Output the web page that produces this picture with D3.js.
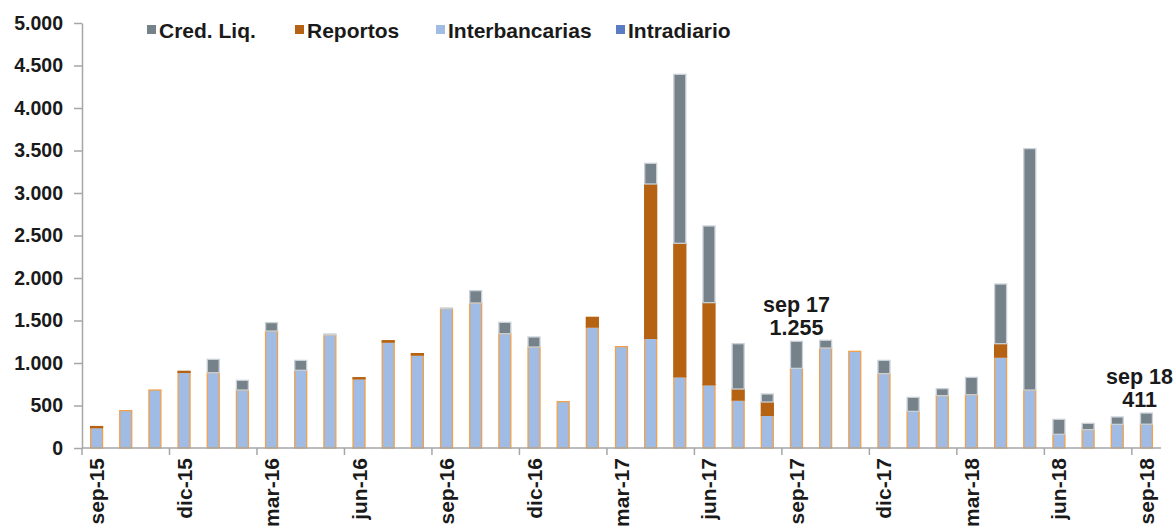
<!DOCTYPE html>
<html lang="es">
<head>
<meta charset="utf-8">
<title>Liquidez</title>
<script src="https://d3js.org/d3.v7.min.js"></script>
<style>
  body { margin: 0; background: #fff; }
  text { font-family: "Liberation Sans", Arial, sans-serif; font-weight: bold; fill: #1a1a1a; }
</style>
</head>
<body>
<script>
// months, sep-15 .. sep-18
var months = ["sep-15","oct-15","nov-15","dic-15","ene-16","feb-16","mar-16","abr-16","may-16","jun-16","jul-16","ago-16",
  "sep-16","oct-16","nov-16","dic-16","ene-17","feb-17","mar-17","abr-17","may-17","jun-17","jul-17","ago-17",
  "sep-17","oct-17","nov-17","dic-17","ene-18","feb-18","mar-18","abr-18","may-18","jun-18","jul-18","ago-18","sep-18"];
var shownLabels = ["sep-15","dic-15","mar-16","jun-16","sep-16","dic-16","mar-17","jun-17","sep-17","dic-17","mar-18","jun-18","sep-18"];

var interbancarias = [240,439,682,890,886,682,1376,914,1330,815,1247,1094,
  1640,1706,1345,1188,545,1424,1192,1290,839,745,565,384,
  937,1176,1137,875,431,616,627,1071,682,161,216,278,280];
var reportos = [12,0,0,12,0,0,0,0,0,12,15,16,
  0,0,0,0,0,113,0,1816,1569,965,129,157,
  0,0,0,0,0,0,0,156,0,0,0,0,0];
var credLiq = [0,0,0,0,157,114,99,117,11,0,0,0,
  7,145,133,118,0,0,0,243,1988,902,533,94,
  318,91,0,156,165,82,204,702,2840,176,74,87,131];
var intradiario = months.map(function() { return 0; });

var yTicks = [0,500,1000,1500,2000,2500,3000,3500,4000,4500,5000];
var notes = [{ month: "sep-17", line1: "sep 17", line2: "1.255" },
             { month: "sep-18", line1: "sep 18", line2: "411" }];

var keys = ["interbancarias","reportos","credLiq","intradiario"];
var colors = { credLiq: "#76828a", reportos: "#b56313", interbancarias: "#a1bce4", intradiario: "#5a7cc2" };
var strokes = { credLiq: "#c9d0d6", reportos: "#b56313", interbancarias: "#f2a04a", intradiario: "#5a7cc2" };
var legendItems = [["credLiq","Cred. Liq."],["reportos","Reportos"],["interbancarias","Interbancarias"],["intradiario","Intradiario"]];

var rows = months.map(function(m, i) {
  return { month: m, interbancarias: interbancarias[i], reportos: reportos[i], credLiq: credLiq[i], intradiario: intradiario[i] };
});

var W = 1175, H = 527;
var svg = d3.select("body").append("svg").attr("width", W).attr("height", H);

var x = d3.scaleBand().domain(months).range([82, 1161]).paddingInner(0.59).paddingOuter(0.295);
var y = d3.scaleLinear().domain([0, 5000]).range([448, 23]);

var loc = d3.formatLocale({ decimal: ",", thousands: ".", grouping: [3], currency: ["", ""] });
var fmt = loc.format(",d");

// y axis
var yAxis = svg.append("g").attr("transform", "translate(82,0)")
  .call(d3.axisLeft(y).tickValues(yTicks).tickFormat(fmt).tickSizeInner(8).tickSizeOuter(0).tickPadding(11));
yAxis.select(".domain").attr("stroke", "#a6a6a6").attr("stroke-width", 1.5);
yAxis.selectAll(".tick line").attr("stroke", "#a6a6a6").attr("stroke-width", 1.5);
yAxis.selectAll("text").style("font-size", "19.5px").attr("fill", "#1a1a1a");

// stacked bars
var series = d3.stack().keys(keys)(rows);
svg.append("g").selectAll("g").data(series).join("g")
  .attr("fill", function(s) { return colors[s.key]; })
  .attr("stroke", function(s) { return strokes[s.key]; })
  .attr("stroke-width", 1.3)
  .selectAll("rect").data(function(s) { return s.filter(function(d) { return d[1] - d[0] > 0; }); })
  .join("rect")
  .attr("x", function(d) { return x(d.data.month); })
  .attr("width", x.bandwidth())
  .attr("y", function(d) { return y(d[1]); })
  .attr("height", function(d) { return y(d[0]) - y(d[1]); });

// x axis line, ticks between categories every 3 months
var gx = svg.append("g");
gx.append("line").attr("x1", 82).attr("x2", 1161).attr("y1", y(0)).attr("y2", y(0))
  .attr("stroke", "#a6a6a6").attr("stroke-width", 1.5);
months.forEach(function(m, i) {
  if (i % 3 === 0) {
    var bx = x(m) - x.step() * x.paddingInner() / 2;
    gx.append("line").attr("x1", bx).attr("x2", bx).attr("y1", y(0)).attr("y2", y(0) + 7)
      .attr("stroke", "#a6a6a6").attr("stroke-width", 1.5);
  }
});
shownLabels.forEach(function(m) {
  var cx = x(m) + x.bandwidth() / 2;
  gx.append("text")
    .attr("transform", "translate(" + (cx + 7.5) + "," + (y(0) + 10) + ") rotate(-90)")
    .attr("text-anchor", "end")
    .style("font-size", "21px")
    .text(m);
});

// annotations (kept inside the right edge)
notes.forEach(function(n) {
  var i = months.indexOf(n.month);
  var cx = x(n.month) + x.bandwidth() / 2;
  var top = y(interbancarias[i] + reportos[i] + credLiq[i]);
  var g = svg.append("g").attr("text-anchor", "middle").style("font-size", "21.5px");
  var t1 = g.append("text").attr("x", cx).attr("y", top - 29).text(n.line1);
  g.append("text").attr("x", cx).attr("y", top - 6).text(n.line2);
  var halfW = t1.node().getComputedTextLength() / 2;
  var over = cx + halfW - (W - 2);
  if (over > 0) g.attr("transform", "translate(" + (-over) + ",0)");
});

// legend
var legendX = [147, 295, 436, 616];
var lg = svg.append("g");
legendItems.forEach(function(it, i) {
  lg.append("rect").attr("x", legendX[i]).attr("y", 25).attr("width", 9).attr("height", 9).attr("fill", colors[it[0]]);
  lg.append("text").attr("x", legendX[i] + 12).attr("y", 37.5).style("font-size", "21px").text(it[1]);
});
</script>
</body>
</html>
